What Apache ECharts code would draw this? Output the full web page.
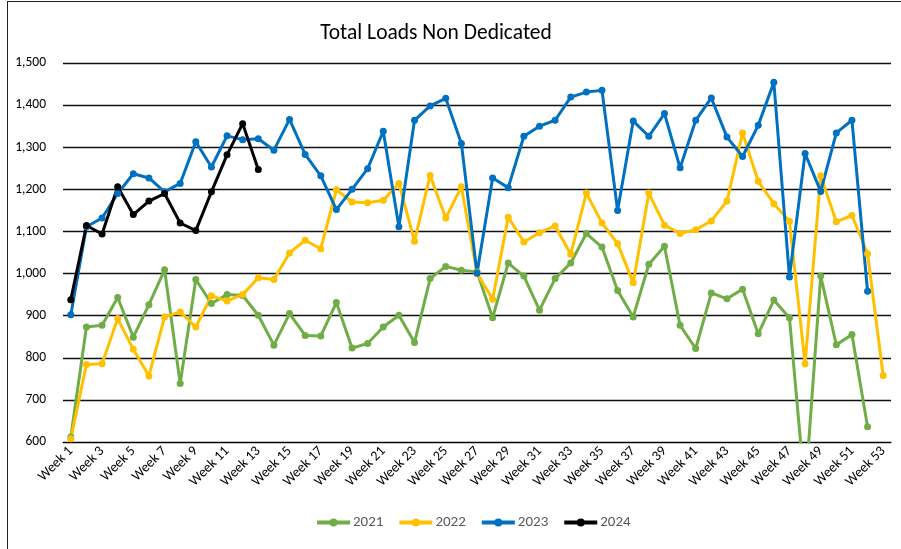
<!DOCTYPE html>
<html>
<head>
<meta charset="utf-8">
<title>Total Loads Non Dedicated</title>
<script src="https://cdn.jsdelivr.net/npm/echarts@6/dist/echarts.min.js"></script>
<style>
  html, body { margin: 0; padding: 0; background: #fff; }
  #frame { position: absolute; left: 7px; top: 1px; width: 894px; height: 548px;
           border-left: 1px solid #222; border-top: 1px solid #222; box-sizing: border-box; }
  #chart { position: absolute; left: 0; top: 0; width: 901px; height: 549px; }
</style>
</head>
<body>
<div id="frame"></div>
<div id="chart"></div>
<script>
const weeks = Array.from({ length: 53 }, (_, i) => 'Week ' + (i + 1))

const loads2021 = [612, 873, 877, 943, 849, 926, 1009, 739, 986, 929, 950, 948, 901, 830, 905,
  853, 852, 931, 823, 834, 873, 901, 836, 988, 1017, 1008, 1004, 895, 1025, 994, 913, 988, 1025,
  1095, 1063, 960, 897, 1022, 1065, 877, 822, 954, 940, 963, 857, 937, 895, 480, 994, 831, 855, 636]

const loads2022 = [608, 784, 786, 893, 820, 757, 897, 909, 873, 947, 935, 950, 990, 986, 1049,
  1079, 1059, 1199, 1170, 1168, 1174, 1214, 1077, 1233, 1132, 1206, 1001, 939, 1134, 1075, 1097, 1113, 1046,
  1191, 1120, 1071, 978, 1191, 1115, 1095, 1104, 1125, 1172, 1334, 1219, 1166, 1124, 786, 1232, 1123, 1138, 1047, 758]

const loads2023 = [902, 1111, 1132, 1190, 1237, 1227, 1194, 1214, 1313, 1253, 1327, 1318, 1320, 1293, 1366,
  1283, 1232, 1152, 1200, 1249, 1338, 1111, 1364, 1398, 1416, 1309, 1001, 1227, 1204, 1326, 1350, 1364, 1419,
  1431, 1435, 1150, 1362, 1326, 1380, 1251, 1364, 1417, 1324, 1278, 1352, 1454, 992, 1285, 1195, 1334, 1364, 958]

const loads2024 = [938, 1114, 1094, 1206, 1140, 1172, 1190, 1120, 1102, 1194, 1282, 1356, 1247]

const seriesNames = ['2021', '2022', '2023', '2024']
const seriesColors = ['#70AD47', '#FFC000', '#0070C0', '#000000']
const seriesData = [loads2021, loads2022, loads2023, loads2024]

const font = 'Carlito, Calibri, Lato, "Open Sans", sans-serif'

const chart = echarts.init(document.getElementById('chart'), null, { renderer: 'canvas' })

chart.setOption({
  animation: false,
  color: seriesColors,
  title: {
    text: 'Total Loads Non Dedicated',
    left: 431,
    top: 18,
    textAlign: 'center',
    textStyle: { fontFamily: font, fontSize: 21.5, fontWeight: 'normal', color: '#000' },
  },
  legend: {
    bottom: 14,
    left: 310,
    itemWidth: 33,
    itemHeight: 10,
    itemGap: 14,
    lineStyle: { width: 4 },
    textStyle: { fontFamily: font, fontSize: 15, color: '#595959', padding: [0, 0, 0, -2] },
    data: seriesNames,
  },
  grid: {
    left: 63,
    right: 10,
    top: 63,
    bottom: 107,
    containLabel: false,
  },
  xAxis: {
    type: 'category',
    data: weeks,
    boundaryGap: true,
    axisLine: { lineStyle: { color: '#000', width: 1 } },
    axisTick: { show: false },
    axisLabel: {
      interval: 1,
      rotate: 45,
      margin: 7,
      fontFamily: font,
      fontSize: 14,
      color: '#000',
    },
  },
  yAxis: {
    type: 'value',
    min: 600,
    max: 1500,
    interval: 100,
    axisLine: { show: false },
    axisTick: { show: false },
    splitLine: { lineStyle: { color: '#111', width: 1.3 } },
    axisLabel: {
      margin: 17,
      fontFamily: font,
      fontSize: 13.5,
      color: '#000',
      formatter: v => v.toLocaleString('en-US'),
    },
  },
  series: seriesNames.map((name, i) => ({
    name,
    type: 'line',
    data: seriesData[i],
    clip: true,
    symbol: 'circle',
    symbolSize: 7,
    lineStyle: { width: 3, color: seriesColors[i] },
    itemStyle: { color: seriesColors[i] },
  })),
})
</script>
</body>
</html>
